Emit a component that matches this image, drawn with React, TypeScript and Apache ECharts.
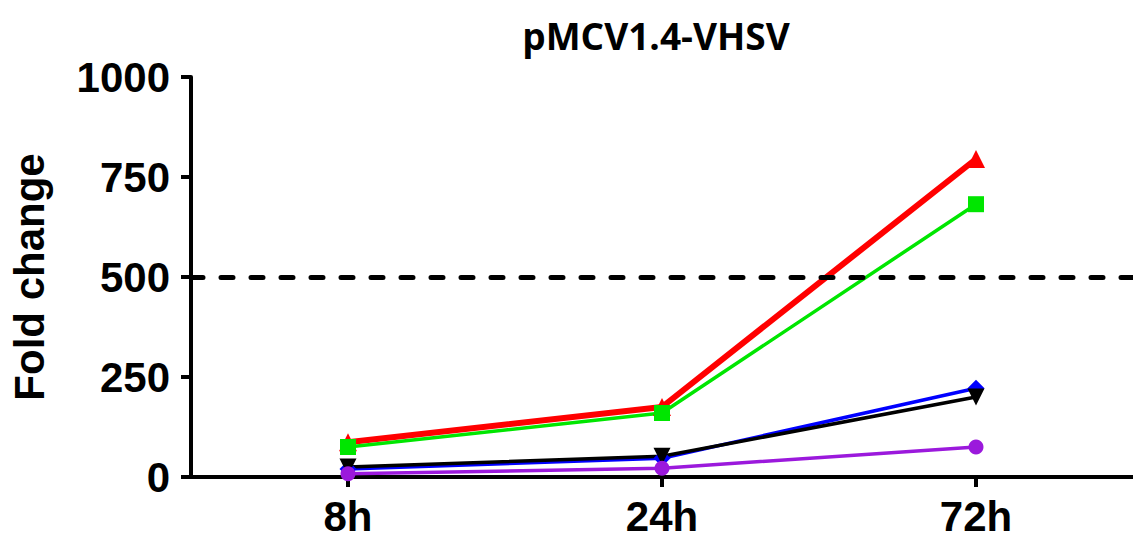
import React, { useEffect, useRef } from "react";
import * as echarts from "echarts";

const categories = ["8h", "24h", "72h"];
const yTicks = [0, 250, 500, 750, 1000];
const thresholdValue = 500;
const redSeries = [87, 175, 795];
const greenSeries = [75, 160, 682];
const blueSeries = [20, 47, 222];
const blackSeries = [25, 52, 200];
const purpleSeries = [8, 22, 75];

export default function App() {
  const ref = useRef<HTMLDivElement>(null);
  useEffect(() => {
    if (!ref.current) return;
    const chart = echarts.init(ref.current, null, { renderer: "svg" });
    const font = "'Liberation Sans', Arial, sans-serif";
    const base = (name: string, data: number[], color: string, symbol: string, size: number, width: number, rotate = 0) => ({
      name,
      type: "line",
      data,
      symbol,
      symbolSize: size,
      symbolRotate: rotate,
      lineStyle: { color, width },
      itemStyle: { color },
      z: 3,
    });
    chart.setOption({
      animation: false,
      backgroundColor: "#ffffff",
      title: {
        text: "pMCV1.4-VHSV",
        left: 651,
        top: 12,
        textAlign: "center",
        textStyle: { fontFamily: "'Open Sans', sans-serif", fontWeight: "bold", fontSize: 37, color: "#000" },
      },
      grid: { left: 191, right: -5, top: 77, bottom: 65, containLabel: false },
      xAxis: {
        type: "category",
        data: categories,
        boundaryGap: true,
        axisLine: { show: true, lineStyle: { color: "#000", width: 4 } },
        axisTick: { show: true, alignWithLabel: true, length: 10, lineStyle: { color: "#000", width: 4 } },
        axisLabel: { color: "#000", fontFamily: font, fontWeight: "bold", fontSize: 42, margin: 18 },
        splitLine: { show: false },
      },
      yAxis: {
        type: "value",
        min: yTicks[0],
        max: yTicks[yTicks.length - 1],
        interval: yTicks[1] - yTicks[0],
        name: "Fold change",
        nameLocation: "middle",
        nameGap: 141,
        nameRotate: 90,
        nameTextStyle: { color: "#000", fontFamily: font, fontWeight: "bold", fontSize: 42 },
        axisLine: { show: true, lineStyle: { color: "#000", width: 4 } },
        axisTick: { show: true, length: 10, lineStyle: { color: "#000", width: 4 } },
        axisLabel: { color: "#000", fontFamily: font, fontWeight: "bold", fontSize: 42, margin: 21, formatter: (v: number) => String(v) },
        splitLine: { show: false },
      },
      series: [
        {
          ...base("red", redSeries, "#ff0000", "triangle", 18, 6),
          markLine: {
            silent: true,
            symbol: ["none", "none"],
            label: { show: false },
            lineStyle: { color: "#000", width: 5, type: [12, 18], cap: "round" },
            data: [{ yAxis: thresholdValue }],
          },
        },
        base("green", greenSeries, "#00e600", "rect", 16, 3.5),
        base("blue", blueSeries, "#0000ff", "diamond", 17, 3.5),
        base("black", blackSeries, "#000000", "triangle", 17, 3.5, 180),
        base("purple", purpleSeries, "#9b19dc", "circle", 15, 3.5),
      ],
    });
    return () => chart.dispose();
  }, []);
  return <div ref={ref} style={{ position: "fixed", left: 0, top: 0, width: 1133, height: 542, background: "#fff" }} />;
}
